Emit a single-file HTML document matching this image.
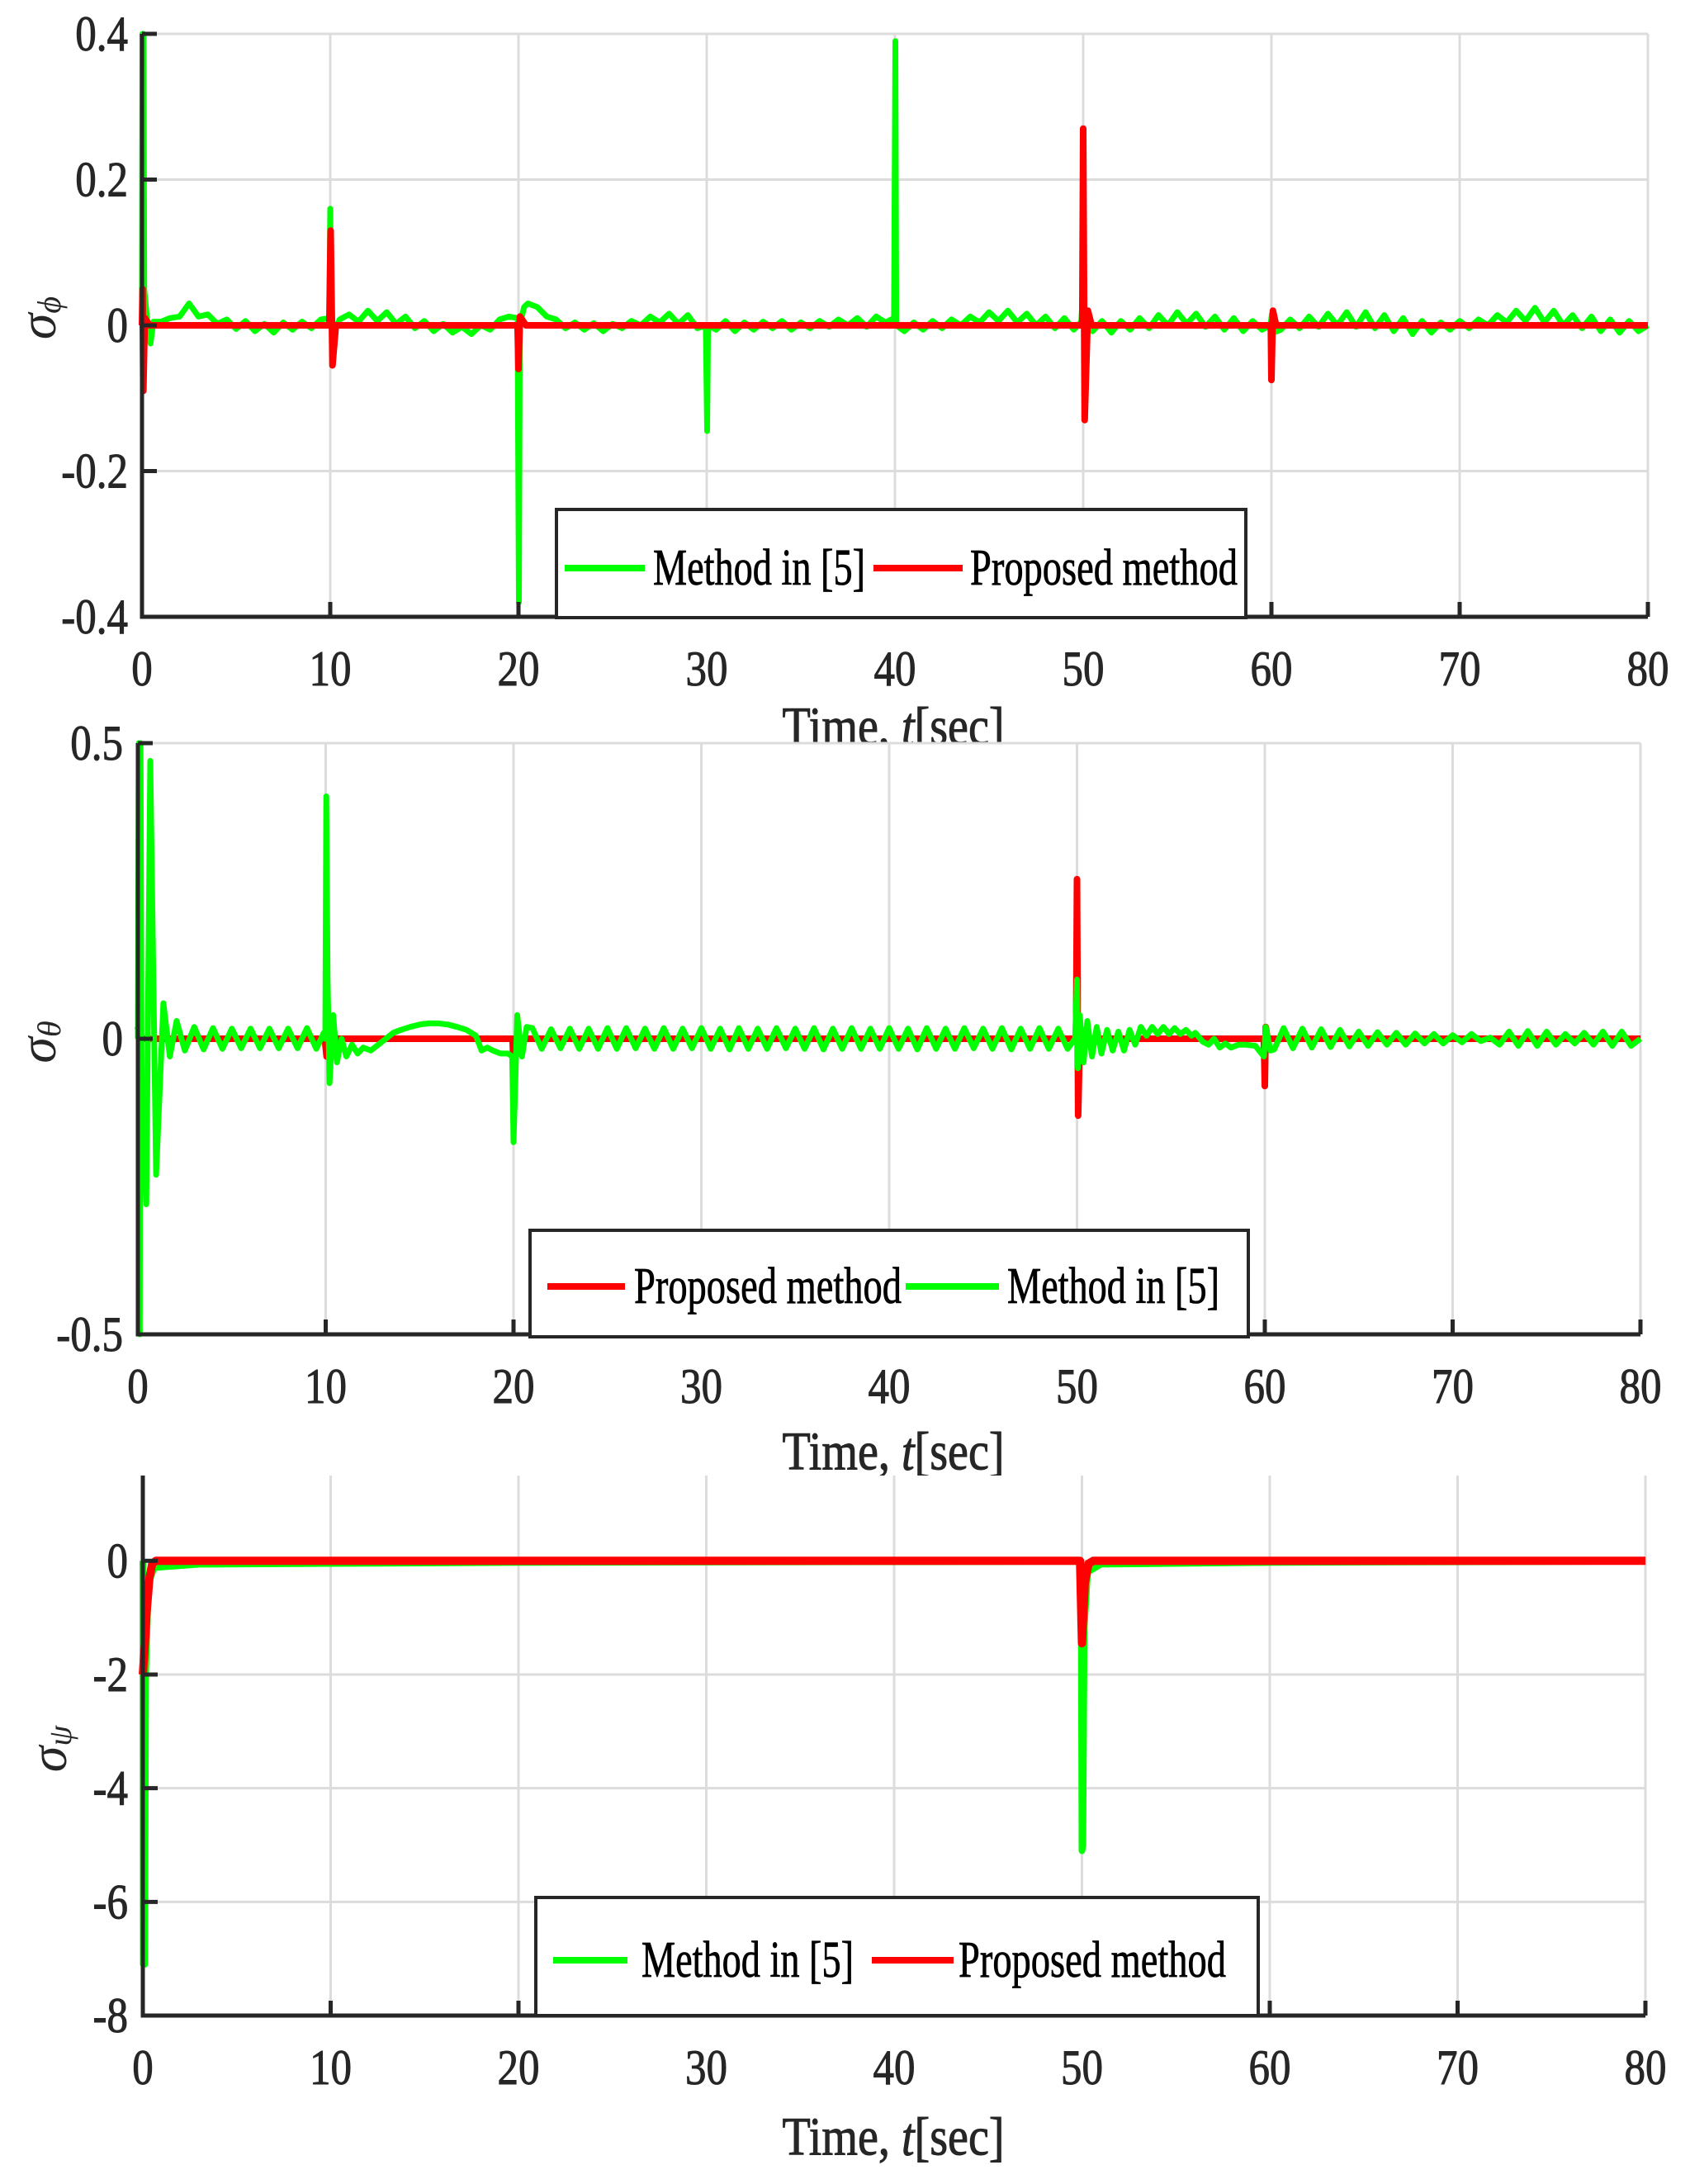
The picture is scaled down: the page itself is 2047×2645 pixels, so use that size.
<!DOCTYPE html>
<html><head><meta charset="utf-8"><style>
html,body{margin:0;padding:0;background:#fff;}
svg{display:block;font-family:"Liberation Serif",serif;}
</style></head><body>
<svg id="fig" width="2047" height="2645" viewBox="0 0 2047 2645" xmlns="http://www.w3.org/2000/svg">
<rect width="2047" height="2645" fill="#fff"/>
</svg>
<script>
// ---------- data ----------
const xTicks = [0,10,20,30,40,50,60,70,80];
const phiTicks = [-0.4,-0.2,0,0.2,0.4];
const phiTickLabels = ["-0.4","-0.2","0","0.2","0.4"];
const thetaTicks = [-0.5,0,0.5];
const thetaTickLabels = ["-0.5","0","0.5"];
const psiTicks = [-8,-6,-4,-2,0];
const psiTickLabels = ["-8","-6","-4","-2","0"];
const baseStep = 0.5;

const phiGreenBase = [0,-0.015,0.005,0.01,0.012,0.03,0.012,0.015,0.002,0.008,-0.005,0.006,-0.008,0.002,-0.01,0.004,-0.006,0.005,-0.004,0.008,0.012,
0.008,0.015,0.005,0.02,0.006,0.018,0.002,0.012,-0.004,0.006,-0.008,0.002,-0.01,-0.002,-0.012,0.0,-0.006,0.008,0.012,0.02,
0.03,0.025,0.012,0.008,-0.004,0.004,-0.006,0.003,-0.008,0.002,-0.004,0.006,0.0,0.012,0.004,0.016,0.002,0.014,-0.004,0.01,
-0.006,0.006,-0.008,0.004,-0.006,0.005,-0.004,0.006,-0.006,0.004,-0.004,0.006,-0.002,0.008,0.0,0.01,-0.002,0.012,0.004,0.01,
-0.008,0.004,-0.006,0.006,-0.004,0.008,0.0,0.012,0.004,0.018,0.006,0.02,0.004,0.016,0.0,0.012,-0.004,0.01,-0.006,0.006,
-0.008,0.006,-0.01,0.006,-0.006,0.01,-0.004,0.014,0.0,0.018,0.002,0.016,-0.002,0.012,-0.006,0.01,-0.008,0.006,-0.006,0.004,
-0.006,0.008,-0.004,0.012,-0.002,0.016,0.0,0.018,-0.002,0.018,-0.004,0.014,-0.008,0.01,-0.012,0.006,-0.01,0.004,-0.006,0.006,
-0.004,0.008,0.0,0.014,0.004,0.02,0.006,0.024,0.004,0.02,0.0,0.014,-0.004,0.012,-0.008,0.008,-0.01,0.006,-0.008,0.0];
const phiGreenClusters = [
 [[0,0],[0.02,0.4],[0.08,0.4],[0.12,0.05],[0.3,0.0],[0.45,-0.025],[0.6,0.005]],
 [[9.95,0.01],[10.0,0.16],[10.05,0.0],[10.15,-0.01]],
 [[19.95,0.01],[20.02,-0.38],[20.07,0.0],[20.3,0.025]],
 [[29.95,0.0],[30.02,-0.145],[30.07,0.0]],
 [[39.95,0.01],[40.02,0.39],[40.07,0.0]],
 [[49.9,0.005],[50.0,0.05],[50.1,-0.02],[50.3,0.005]],
 [[59.95,0.0],[60.02,0.015],[60.1,-0.01]]
];
const phiRed = [[0,0],[0.03,0.05],[0.07,-0.09],[0.15,0.01],[0.4,0],[9.95,0],[10.02,0.13],[10.12,-0.055],[10.3,0],[19.95,0],[20.0,-0.06],[20.08,0.012],[20.4,0],[49.95,0],[50.0,0.27],[50.08,-0.13],[50.25,0.02],[50.45,0],[59.97,0],[60.0,-0.075],[60.08,0.02],[60.25,0],[80,0]];

const thetaGreenBase = [0,0,0,0,0.025,-0.02,0.02,-0.018,0.018,-0.017,0.017,-0.016,0.017,-0.016,0.017,-0.016,0.017,-0.016,0.018,-0.017,
0,0,0,0,0,0,0,0,0,0,0,0,0,0,0,0,0,0,0,0,
0,0,0.018,-0.017,0.016,-0.016,0.017,-0.017,0.017,-0.017,0.018,-0.017,0.018,-0.016,0.017,-0.017,0.018,-0.017,0.017,-0.016,
0.018,-0.017,0.017,-0.018,0.018,-0.017,0.017,-0.017,0.018,-0.016,0.017,-0.017,0.018,-0.018,0.017,-0.017,0.018,-0.017,0.017,-0.017,
0.018,-0.017,0.017,-0.018,0.018,-0.017,0.017,-0.017,0.018,-0.016,0.017,-0.017,0.018,-0.018,0.017,-0.017,0.018,-0.017,0.017,-0.017,
0,0,0,0,0,0,0,0,0,0,0,0,0,0,0,0,0,0,0,0,
0,-0.018,0.018,-0.016,0.017,-0.015,0.016,-0.014,0.015,-0.013,0.012,-0.012,0.011,-0.01,0.01,-0.01,0.009,-0.008,0.008,-0.008,
0.006,-0.006,0.008,-0.004,0.002,-0.01,0.012,-0.012,0.013,-0.012,0.012,-0.01,0.008,-0.008,0.01,-0.01,0.012,-0.012,0.012,-0.012,0.0];
const thetaGreenClusters = [
 [[0,0],[0.05,0.5],[0.1,-0.5],[0.14,0.5],[0.2,-0.1],[0.45,-0.28],[0.66,0.47],[0.97,-0.23],[1.36,0.06],[1.7,-0.03],[2.06,0.03]],
 [[9.9,0.01],[9.98,0],[10.03,0.41],[10.1,0.1],[10.2,-0.075],[10.4,0.04],[10.6,-0.04],[10.85,0.0],[11.1,-0.03],[11.4,-0.01],[11.7,-0.025],[12.0,-0.015],[12.4,-0.02],[12.8,-0.01],[13.2,0.0],[13.6,0.01],[14.0,0.015],[14.5,0.02],[15,0.024],[15.5,0.026],[16,0.026],[16.5,0.024],[17,0.02],[17.5,0.015],[18,0.005],[18.3,-0.02],[18.6,-0.015],[18.9,-0.02],[19.3,-0.025],[19.7,-0.025],[19.93,-0.03],[20.0,-0.175],[20.07,-0.1],[20.2,0.04],[20.45,-0.03],[20.7,0.02]],
 [[49.9,0.0],[50.0,0.1],[50.05,-0.05],[50.15,0.04],[50.35,-0.04],[50.55,0.03],[50.8,-0.03],[51.05,0.02],[51.3,-0.025],[51.6,0.015],[51.9,-0.02],[52.2,0.012],[52.5,-0.02],[52.8,0.015],[53.1,-0.01],[53.4,0.02],[53.7,0.005],[54.0,0.02],[54.3,0.008],[54.6,0.02],[54.9,0.008],[55.2,0.018],[55.5,0.008],[55.8,0.015],[56.1,0.005],[56.3,0.01],[56.7,-0.005],[57.0,-0.01],[57.3,0.0],[57.6,-0.015],[57.9,-0.008],[58.2,-0.015],[58.6,-0.01],[59,-0.01],[59.5,-0.012],[59.95,-0.03],[60.05,0.02],[60.3,-0.02]]
];
const thetaRed = [[0,0.02],[0.1,0],[9.95,0],[10.05,-0.03],[10.2,0],[19.95,0],[20.0,-0.05],[20.1,0],[49.95,0],[50.0,0.27],[50.06,-0.13],[50.15,0.0],[59.95,0],[60.0,-0.08],[60.05,0.02],[60.15,0],[80,0]];

const psiGreen = [[0,0],[0.02,-7.1],[0.1,-7.1],[0.15,-2],[0.3,-0.4],[0.6,-0.12],[3,-0.06],[20,-0.03],[49.95,-0.01],[50.0,-5.1],[50.05,-5.0],[50.12,-1.2],[50.3,-0.2],[51,-0.06],[60,-0.03],[77.5,-0.01]];
const psiRed = [[0,-2.0],[0.1,-1.5],[0.2,-0.9],[0.35,-0.3],[0.5,-0.05],[0.7,0],[49.9,0],[50.0,-1.45],[50.15,-0.4],[50.35,-0.05],[50.6,0],[80,0]];

// ---------- helpers ----------
const NS="http://www.w3.org/2000/svg";
const svg=document.getElementById('fig');
const condensed=[];
function el(tag,attrs,parent){const e=document.createElementNS(NS,tag);for(const k in attrs)e.setAttribute(k,attrs[k]);(parent||svg).appendChild(e);return e;}
function txt(x,y,s,size,anchor,parent){const t=el('text',{x:x,y:y,'font-size':size,'text-anchor':anchor||'middle','dominant-baseline':'central',fill:'#262626',stroke:'#262626','stroke-width':1},parent);t.textContent=s;condensed.push(t);return t;}
function mergeSeries(base,clusters){
  let pts=[];
  base.forEach((v,i)=>{const t=i*baseStep;if(!clusters.some(c=>t>=c[0][0]&&t<=c[c.length-1][0]))pts.push([t,v]);});
  clusters.forEach(c=>c.forEach(p=>pts.push(p)));
  pts.sort((a,b)=>a[0]-b[0]);return pts;
}
function axes(cfg){
  const g=el('g',{});
  
  
  const sx=v=>cfg.x0+(v-0)/(80-0)*(cfg.x1-cfg.x0);
  const sy=v=>cfg.yb+(v-cfg.ymin)/(cfg.ymax-cfg.ymin)*(cfg.yt-cfg.yb);
  const bg=el('rect',{x:cfg.x0,y:cfg.yt,width:cfg.x1-cfg.x0,height:cfg.yb-cfg.yt,fill:'#fff'},g);
  
  
  xTicks.forEach(v=>{const l=el('line',{x1:sx(v),x2:sx(v),y1:cfg.yt,y2:cfg.yb,stroke:'#dcdcdc','stroke-width':3},g);
    
    });
  cfg.yTicks.forEach(v=>{const l=el('line',{x1:cfg.x0,x2:cfg.x1,y1:sy(v),y2:sy(v),stroke:'#dcdcdc','stroke-width':3},g);
    
    });
  return {g,sx,sy};
}
function line(ax,pts,color,w,name){
  const d=pts.map((p,i)=>(i?'L':'M')+ax.sx(p[0]).toFixed(1)+' '+ax.sy(p[1]).toFixed(1)).join(' ');
  const p=el('path',{d:d,fill:'none',stroke:color,'stroke-width':w,'stroke-linejoin':'round'},ax.g);
  
  
}
function frame(ax,cfg){
  const g=ax.g;
  const axl=el('path',{d:`M${cfg.x0} ${cfg.yt} L${cfg.x0} ${cfg.yb} L${cfg.x1} ${cfg.yb}`,fill:'none',stroke:'#262626','stroke-width':5},g);
  
  
  xTicks.forEach(v=>{el('line',{x1:ax.sx(v),x2:ax.sx(v),y1:cfg.yb,y2:cfg.yb-18,stroke:'#262626','stroke-width':5},g);
    const t=txt(ax.sx(v),cfg.yb+63,String(v),60,'middle',g);
    
    });
  cfg.yTicks.forEach((v,i)=>{el('line',{x1:cfg.x0,x2:cfg.x0+18,y1:ax.sy(v),y2:ax.sy(v),stroke:'#262626','stroke-width':5},g);
    const t=txt(cfg.labRight,ax.sy(v),cfg.yLabels[i],60,'end',g);
    
    });
  const xl=txt(1082,cfg.xlabY,'',66,'middle',g);
  
  
  xl.appendChild(document.createTextNode('Time, '));
  const it=el('tspan',{'font-style':'italic'},xl);it.textContent='t';
  xl.appendChild(document.createTextNode('[sec]'));
  const yl=el('text',{transform:`translate(${cfg.ylX},${cfg.ylY}) rotate(-90)`,'font-size':64,'text-anchor':'middle','dominant-baseline':'central',fill:'#262626','font-style':'italic'},g);
  
  
  const s1=el('tspan',{},yl);s1.textContent='σ';
  const s2=el('tspan',{'font-size':40,dy:14},yl);s2.textContent=cfg.sub;
}
function legend(g,box,cy,entries){
  const lg=el('g',{},g);
  
  
  el('rect',{x:box[0],y:box[1],width:box[2]-box[0],height:box[3]-box[1],fill:'#fff',stroke:'#262626','stroke-width':4},lg);
  entries.forEach(e=>{
    const l=el('line',{x1:e.l0,x2:e.l1,y1:cy,y2:cy,stroke:e.color,'stroke-width':8},lg);
    
    
    const t=el('text',{x:e.t0,y:cy,'font-size':62,'dominant-baseline':'central',fill:'#000',stroke:'#000','stroke-width':0.8,textLength:e.t1-e.t0,lengthAdjust:'spacingAndGlyphs'},lg);
    t.textContent=e.label;
    
    
  });
}
// ---------- panel 1 ----------
const c1={name:'phi-chart',x0:172,x1:1996,yt:41,yb:747,ymin:-0.4,ymax:0.4,yTicks:phiTicks,yLabels:phiTickLabels,labRight:155,xlabY:880,ylX:45,ylY:385,sub:'ϕ'};
const a1=axes(c1);
line(a1,mergeSeries(phiGreenBase,phiGreenClusters),'#00ff00',7,'phi-method5-line');
line(a1,phiRed,'#ff0000',8,'phi-proposed-line');
frame(a1,c1);
legend(a1.g,[674,617,1509,748],688,[
 {l0:684,l1:781,t0:791,t1:1048,color:'#00ff00',label:'Method in [5]'},
 {l0:1058,l1:1166,t0:1175,t1:1499,color:'#ff0000',label:'Proposed method'}]);
// ---------- panel 2 ----------
const c2={name:'theta-chart',x0:167,x1:1987,yt:900,yb:1616,ymin:-0.5,ymax:0.5,yTicks:thetaTicks,yLabels:thetaTickLabels,labRight:149,xlabY:1758,ylX:45,ylY:1262,sub:'θ'};
const a2=axes(c2);
line(a2,thetaRed,'#ff0000',8,'theta-proposed-line');
line(a2,mergeSeries(thetaGreenBase,thetaGreenClusters),'#00ff00',7,'theta-method5-line');
frame(a2,c2);
legend(a2.g,[642,1490,1512,1619],1558,[
 {l0:663,l1:757,t0:768,t1:1092,color:'#ff0000',label:'Proposed method'},
 {l0:1097,l1:1210,t0:1220,t1:1477,color:'#00ff00',label:'Method in [5]'}]);
// ---------- panel 3 ----------
const c3={name:'psi-chart',x0:173,x1:1993,yt:1787,yb:2441,ymin:-8,ymax:1.5,yTicks:psiTicks,yLabels:psiTickLabels,labRight:155,xlabY:2588,ylX:58,ylY:2118,sub:'ψ'};
const a3=axes(c3);
line(a3,psiGreen,'#00ff00',8,'psi-method5-line');
line(a3,psiRed,'#ff0000',10,'psi-proposed-line');
frame(a3,c3);
legend(a3.g,[649,2298,1524,2441],2374,[
 {l0:670,l1:760,t0:777,t1:1034,color:'#00ff00',label:'Method in [5]'},
 {l0:1056,l1:1155,t0:1161,t1:1485,color:'#ff0000',label:'Proposed method'}]);
// condense tick/axis text horizontally (Times-like narrow rendering)
condensed.forEach(t=>{try{const w=t.getComputedTextLength();if(w>0){t.setAttribute('textLength',(w*0.85).toFixed(1));t.setAttribute('lengthAdjust','spacingAndGlyphs');}}catch(e){}});
</script>
</body></html>
